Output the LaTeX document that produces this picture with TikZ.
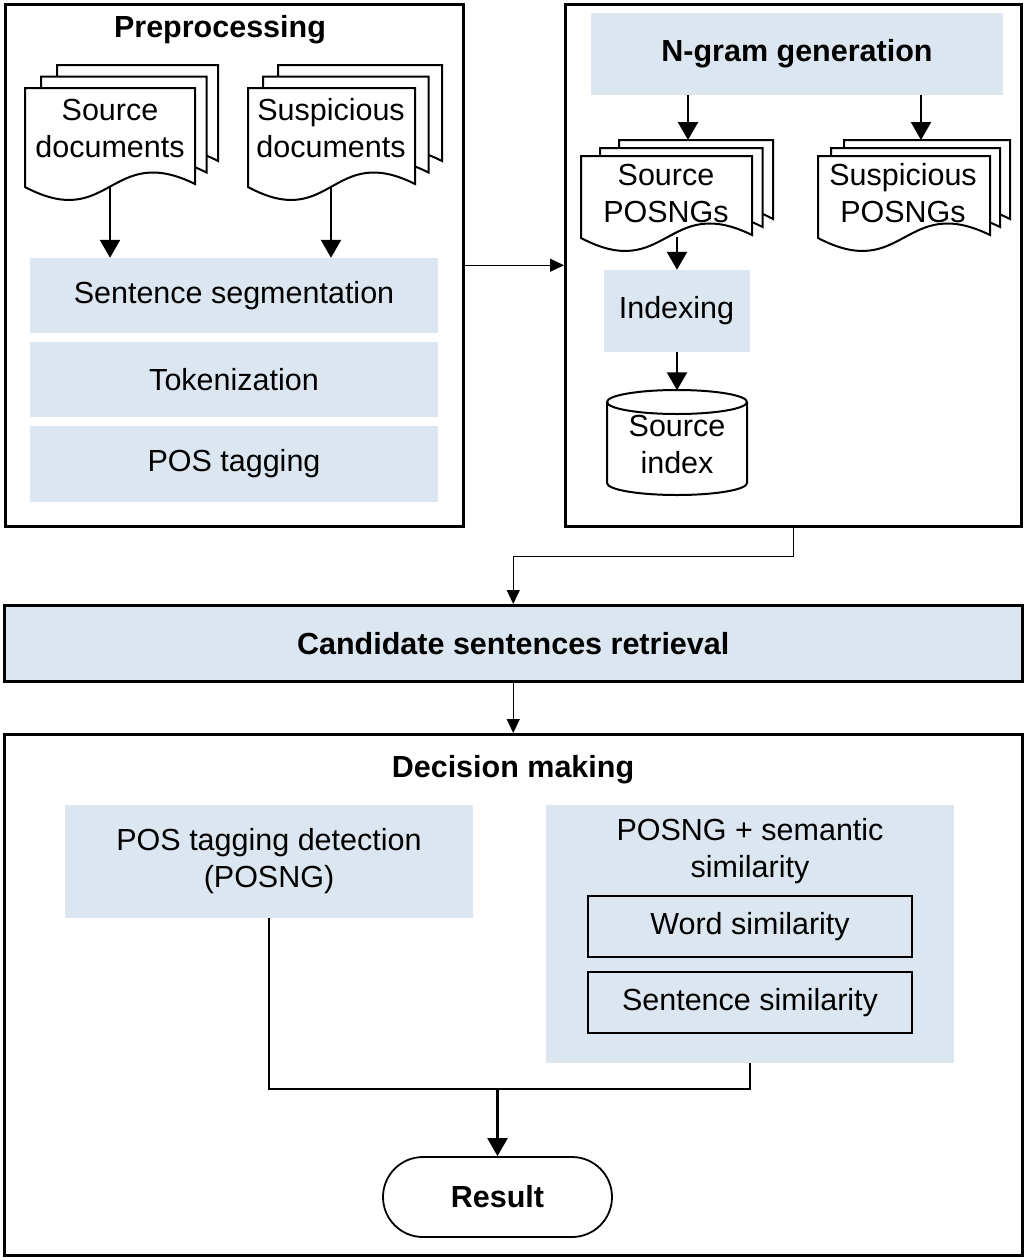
\documentclass[tikz,border=0pt]{standalone}
\usepackage{fontspec}
\setmainfont{Liberation Sans}
\usetikzlibrary{arrows.meta,calc}
\definecolor{boxblue}{RGB}{220,230,240}
\newcommand{\myfs}{\fontsize{30.5}{37}\selectfont}
\newcommand{\docstack}[7]{%
  \foreach \k in {2,1,0}{%
    \pgfmathsetmacro{\ax}{#1+\k*#5}%
    \pgfmathsetmacro{\bx}{#2+\k*#6}%
    \pgfmathsetmacro{\ty}{#3-\k*#7}%
    \pgfmathsetmacro{\by}{#4-\k*#7}%
    \pgfmathsetmacro{\mx}{(\ax+\bx)/2}%
    \draw[docline] (\ax,\ty) -- (\bx,\ty) -- (\bx,\by-3) .. controls (\mx,\by-45) and (\mx,\by+45) .. (\ax,\by) -- cycle;
  }}
\tikzset{
  frame/.style={draw, line width=2.5pt, inner sep=0pt, anchor=north west},
  fbox/.style={fill=boxblue, inner sep=0pt, align=center, font=\myfs},
  lbl/.style={align=center, font=\myfs, inner sep=0pt},
  blbl/.style={align=center, font=\myfs\bfseries, inner sep=0pt},
  arr/.style={line width=2.4pt, -{Triangle[length=18pt,width=20pt]}},
  thinarr/.style={line width=1.2pt, -{Triangle[length=14pt,width=13pt]}},
  merge/.style={line width=2.4pt},
  docline/.style={draw, fill=white, line width=2pt},
  inbox/.style={draw, line width=2pt, inner sep=0pt, align=center, font=\myfs},
}
\begin{document}
\begin{tikzpicture}[x=1pt,y=-1pt]
\useasboundingbox[fill=white] (0,0) rectangle (1024,1258);

% ---------- frames ----------
\node[frame, minimum width=458pt, minimum height=522pt] (pre) at (4,3) {};
\node[frame, minimum width=456pt, minimum height=522pt] (rbox) at (564,3) {};
\node[frame, fill=boxblue, minimum width=1018pt, minimum height=76pt] (cand) at (3,604) {};
\node[blbl] (candtxt) at (cand.center) {Candidate sentences retrieval};
\node[frame, minimum width=1018pt, minimum height=521pt] (dec) at (3,733) {};

% ---------- preprocessing ----------
\node[blbl] (pretitle) at (220,30) {Preprocessing};
\docstack{25}{195}{88}{187}{16}{11.5}{11.5}
\node[lbl] (sdtxt) at (110,128) {Source\\documents};
\docstack{248}{415}{88}{187}{15}{13.5}{11.5}
\node[lbl] (sustxt) at (331,128) {Suspicious\\documents};
\coordinate (sdbot) at (110,187);
\coordinate (susbot) at (331,187);

\node[fbox, minimum width=408pt, minimum height=75pt] (seg) at (234,295.5) {Sentence segmentation};
\node[fbox, minimum width=408pt, minimum height=75pt] (tok) at (234,379.5) {Tokenization};
\node[fbox, minimum width=408pt, minimum height=76pt] (pos) at (234,464) {POS tagging};

\draw[arr] (sdbot) -- (seg.north -| sdbot);
\draw[arr] (susbot) -- (seg.north -| susbot);

% ---------- right box ----------
\node[fbox, font=\myfs\bfseries, minimum width=412pt, minimum height=82pt] (ngram) at (797,53.5) {N-gram generation};
\docstack{581}{752}{156}{238}{19}{10.5}{8}
\node[lbl] (sptxt) at (666,193) {Source\\POSNGs};
\docstack{818}{990}{156}{238}{13}{10}{8}
\node[lbl] (suptxt) at (903,193) {Suspicious\\POSNGs};
\coordinate (sptop) at (688,140);
\coordinate (suptop) at (921,140);
\coordinate (spbot) at (677,237);
\draw[arr] (ngram.south -| sptop) -- (sptop);
\draw[arr] (ngram.south -| suptop) -- (suptop);

\node[fbox, minimum width=146pt, minimum height=82pt] (idx) at (676.5,311) {Indexing};
\draw[arr] (spbot) -- (idx.north -| spbot);

% cylinder
\node[minimum width=140pt, minimum height=105pt, inner sep=0pt] (cyl) at (677,443) {};
\fill[white] (607,402) -- (607,483) arc[start angle=180,end angle=360,x radius=70pt,y radius=12pt] -- (747,402) -- cycle;
\draw[line width=2pt] (607,402) -- (607,483) arc[start angle=180,end angle=360,x radius=70pt,y radius=12pt] -- (747,402);
\draw[docline] (677,402) ellipse[x radius=70pt,y radius=12pt];
\node[lbl] (cyltxt) at (677,444) {Source\\index};
\draw[arr] (idx.south -| cyl.north) -- (cyl.north);

% ---------- connectors between frames ----------
\draw[thinarr] (pre.east) -- (rbox.west);
\draw[thinarr] (rbox.south) -- ++(0,29) -| (cand.north);
\draw[thinarr] (cand.south) -- (dec.north);

% ---------- decision making ----------
\node[blbl] (dectitle) at (513,770) {Decision making};
\node[fbox, minimum width=408pt, minimum height=113pt] (posdet) at (269,861.5) {POS tagging detection\\(POSNG)};
\node[fbox, minimum width=408pt, minimum height=258pt] (sem) at (750,934) {};
\node[lbl] (semtxt) at (750,851) {POSNG + semantic\\similarity};
\node[inbox, minimum width=324pt, minimum height=61pt] (word) at (750,926.5) {Word similarity};
\node[inbox, minimum width=324pt, minimum height=61pt] (sent) at (750,1002.5) {Sentence similarity};

\coordinate (mg) at (497.5,1089);
\draw[merge] (posdet.south) |- (mg) -| (sem.south);
\node[draw, line width=1.8pt, rounded corners=40pt, minimum width=229pt, minimum height=80pt, font=\myfs\bfseries] (res) at (497.5,1197) {Result};
\draw[arr] (mg) -- (res.north);
\end{tikzpicture}
\end{document}
